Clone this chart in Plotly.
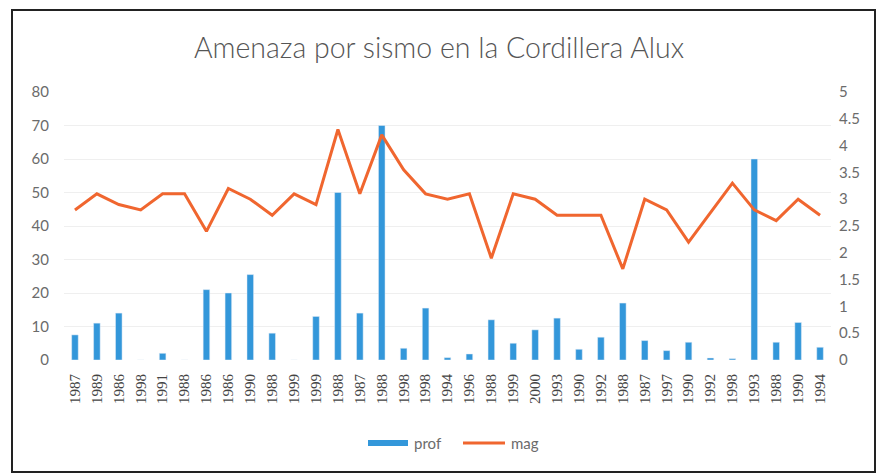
import plotly.graph_objects as go

# Event years (category labels, repeated years kept in order)
years = ["1987", "1989", "1986", "1998", "1991", "1988", "1986", "1986", "1990", "1988",
         "1999", "1999", "1988", "1987", "1988", "1998", "1998", "1994", "1996", "1988",
         "1999", "2000", "1993", "1990", "1992", "1988", "1987", "1997", "1990", "1992",
         "1998", "1993", "1988", "1990", "1994"]

# Focal depth (left axis)
prof = [7.5, 11, 14, 0, 2, 0, 21, 20, 25.5, 8, 0, 13, 50, 14, 70, 3.5, 15.5, 0.7,
        1.8, 12, 5, 9, 12.5, 3.2, 6.8, 17, 5.8, 2.8, 5.3, 0.6, 0.4, 60, 5.3, 11.2, 3.8]

# Magnitude (right axis)
mag = [2.8, 3.1, 2.9, 2.8, 3.1, 3.1, 2.4, 3.2, 3.0, 2.7, 3.1, 2.9, 4.3, 3.1, 4.2, 3.55,
       3.1, 3.0, 3.1, 1.9, 3.1, 3.0, 2.7, 2.7, 2.7, 1.7, 3.0, 2.8, 2.2, 2.75, 3.3, 2.8,
       2.6, 3.0, 2.7]

left_ticks = [0, 10, 20, 30, 40, 50, 60, 70, 80]
right_ticks = [0, 0.5, 1, 1.5, 2, 2.5, 3, 3.5, 4, 4.5, 5]

W, H = 878, 474
ML, MR, MT, MB = 64, 47, 92, 114

BAR_COLOR = "#3397da"
LINE_COLOR = "#f0662f"
grey = "#6b6b6b"

idx = list(range(len(years)))

fig = go.Figure()
fig.add_trace(go.Bar(
    x=idx, y=prof, name="prof", marker_color=BAR_COLOR, width=0.3,
    yaxis="y", showlegend=False,
))
fig.add_trace(go.Scatter(
    x=idx, y=mag, name="mag", mode="lines",
    line=dict(color=LINE_COLOR, width=3), yaxis="y2", showlegend=False,
))

fig.update_layout(
    width=W, height=H,
    margin=dict(l=ML, r=MR, t=MT, b=MB, autoexpand=False),
    paper_bgcolor="white", plot_bgcolor="white",
    title=dict(text="Amenaza por sismo en la Cordillera Alux", x=0.5, xanchor="center",
               y=1 - 48 / H, yanchor="middle",
               font=dict(family="Lato", size=28.5, color="#555555", weight=300)),
    xaxis=dict(
        tickmode="array", tickvals=idx, ticktext=years, tickangle=-90,
        range=[-0.5, len(years) - 0.5], showgrid=False, zeroline=False,
        showline=False, ticks="", automargin=False, ticklabelstandoff=10,
        tickfont=dict(family="Liberation Serif", size=15, color="#444444"),
    ),
    yaxis=dict(
        range=[0, 80], tickvals=left_ticks, showgrid=True, gridcolor="#efefef",
        zeroline=False, showline=False, ticks="", automargin=False,
        ticklabelstandoff=14,
        tickfont=dict(family="Lato", size=15, color=grey),
    ),
    yaxis2=dict(
        range=[0, 5], tickvals=right_ticks, overlaying="y", side="right",
        showgrid=False, zeroline=False, showline=False, ticks="", automargin=False,
        ticklabelstandoff=7,
        tickfont=dict(family="Lato", size=15, color=grey),
    ),
    showlegend=False,
)

# Pixel -> paper coordinate helpers
pw = W - ML - MR
ph = H - MT - MB
def px(xp):
    return (xp - ML) / pw
def py(yp):
    return (H - MB - yp) / ph

# Outer frame of the chart area
fig.add_shape(type="rect", xref="paper", yref="paper",
              x0=px(12), x1=px(875), y0=py(472), y1=py(10),
              line=dict(color="#222222", width=2), layer="below")

# Legend: wide swatch for the bars, line segment for the magnitude
fig.add_shape(type="rect", xref="paper", yref="paper",
              x0=px(368), x1=px(408), y0=py(446), y1=py(440),
              fillcolor=BAR_COLOR, line=dict(width=0))
fig.add_annotation(text="prof", xref="paper", yref="paper", x=px(412), y=py(443),
                   xanchor="left", yanchor="middle", showarrow=False,
                   font=dict(family="Lato", size=15, color=grey))
fig.add_shape(type="line", xref="paper", yref="paper",
              x0=px(463), x1=px(505), y0=py(443), y1=py(443),
              line=dict(color=LINE_COLOR, width=3))
fig.add_annotation(text="mag", xref="paper", yref="paper", x=px(509), y=py(443),
                   xanchor="left", yanchor="middle", showarrow=False,
                   font=dict(family="Lato", size=15, color=grey))

fig.write_html("out.html")
